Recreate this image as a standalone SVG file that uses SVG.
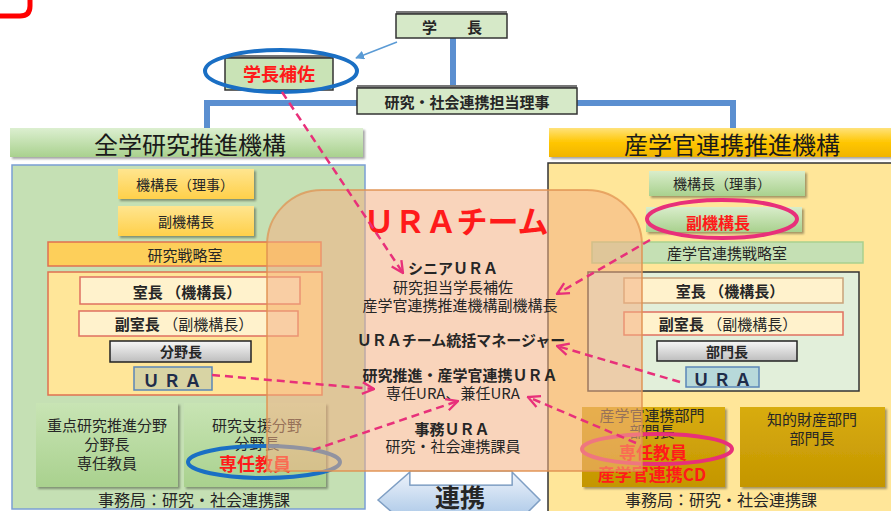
<svg xmlns="http://www.w3.org/2000/svg" width="891" height="511" viewBox="0 0 891 511">
<style>
text{font-family:"Noto Sans CJK JP","Noto Sans",sans-serif;fill:#262626;dominant-baseline:central;text-anchor:middle}
.b{font-weight:bold}
.red{fill:#ff1a1a;font-weight:bold}
.hd{font-size:24px;fill:#1a1a1a}
.t14{font-size:14px}
.t15{font-size:15px}
.t16{font-size:16px}
.ura{font-size:17px;font-weight:bold;fill:#1f2d4a;letter-spacing:4px}
.box{stroke:#333;stroke-width:1.5}
.pk{fill:none;stroke:#e8307a;stroke-width:2.5;stroke-dasharray:8 5}
.bl{fill:none;stroke:#5b8fd0;stroke-width:6}
</style>
<defs>
<filter id="sh" x="-10%" y="-10%" width="130%" height="140%"><feDropShadow dx="2" dy="2" stdDeviation="1.2" flood-color="#000" flood-opacity="0.35"/></filter>
<linearGradient id="gY" x1="0" y1="0" x2="0" y2="1"><stop offset="0" stop-color="#ffe58f"/><stop offset="1" stop-color="#ffd04a"/></linearGradient>
<linearGradient id="gG" x1="0" y1="0" x2="0" y2="1"><stop offset="0" stop-color="#d9edcb"/><stop offset="1" stop-color="#a9d18e"/></linearGradient>
<linearGradient id="gGr" x1="0" y1="0" x2="0" y2="1"><stop offset="0" stop-color="#f7f7f7"/><stop offset="1" stop-color="#bdbdbd"/></linearGradient>
<linearGradient id="gHL" x1="0" y1="0" x2="0" y2="1"><stop offset="0" stop-color="#dcefd0"/><stop offset="1" stop-color="#a9d18e"/></linearGradient>
<linearGradient id="gHR" x1="0" y1="0" x2="0" y2="1"><stop offset="0" stop-color="#ffe27a"/><stop offset="0.5" stop-color="#ffc600"/><stop offset="1" stop-color="#f0b400"/></linearGradient>
<linearGradient id="gLL" x1="0" y1="0" x2="0" y2="1"><stop offset="0" stop-color="#c8e4b4"/><stop offset="1" stop-color="#a9d18e"/></linearGradient>
<linearGradient id="gLR" x1="0" y1="0" x2="0" y2="1"><stop offset="0" stop-color="#d8ac10"/><stop offset="1" stop-color="#c49600"/></linearGradient>
<linearGradient id="gAr" x1="0" y1="0" x2="0" y2="1"><stop offset="0" stop-color="#eef3fb"/><stop offset="1" stop-color="#9dbfe3"/></linearGradient>
<marker id="mp" viewBox="0 0 12 12" refX="11" refY="6" markerWidth="14" markerHeight="14" markerUnits="userSpaceOnUse" orient="auto"><path d="M1,1 L11,6 L1,11" fill="none" stroke="#e8307a" stroke-width="2"/></marker>
<marker id="mb" viewBox="0 0 10 10" refX="9" refY="5" markerWidth="9" markerHeight="9" markerUnits="userSpaceOnUse" orient="auto"><path d="M0,0 L10,5 L0,10 Z" fill="#5b9bd5"/></marker>
</defs>
<rect width="891" height="511" fill="#fff"/>
<path d="M0,16 H20 Q30,16 30,6 V0" fill="none" stroke="#ff0000" stroke-width="5"/>

<g id="conn-org">
<path class="bl" d="M453,38 V86"/>
<path class="bl" d="M357,103 H207 V128"/>
<path class="bl" d="M577,103 H733 V128"/>
<path d="M397,42 L356,58" fill="none" stroke="#5b9bd5" stroke-width="1.5" marker-end="url(#mb)"/>
</g>

<g id="president">
<rect x="396" y="11" width="111" height="4" fill="#777"/>
<rect class="box" x="396" y="14" width="111" height="24" fill="#d6e9c8"/>
<text class="b t15" x="452" y="26">学　　長</text>
</g>
<g id="director">
<rect x="357" y="85" width="220" height="4" fill="#777"/>
<rect class="box" x="357" y="88" width="220" height="26" fill="#d6e9c8"/>
<text class="b t15" x="467" y="101">研究・社会連携担当理事</text>
</g>
<g id="assistant">
<rect x="225" y="55" width="108" height="4" fill="#777"/>
<rect class="box" x="225" y="58" width="108" height="32" fill="#c9e3b6"/>
<text class="red" font-size="18" x="279" y="73">学長補佐</text>
<ellipse cx="281" cy="71" rx="76" ry="21" fill="none" stroke="#1a6fc4" stroke-width="4"/>
</g>

<!-- left organization -->
<g id="left-org">
<rect x="10" y="128" width="353" height="29" fill="url(#gHL)" filter="url(#sh)"/>
<text class="hd" x="190" y="143">全学研究推進機構</text>
<rect x="12" y="165" width="353" height="344" fill="#c5e0b4" stroke="#7a9fd4" stroke-width="1.5"/>
<g id="l-head"><rect x="118" y="169" width="136" height="30" fill="url(#gY)" filter="url(#sh)"/><text class="t14" x="185" y="184">機構長（理事）</text></g>
<g id="l-vice"><rect x="118" y="206" width="136" height="30" fill="url(#gY)" filter="url(#sh)"/><text class="t14" x="186" y="221">副機構長</text></g>
<g id="l-strategy"><rect x="48" y="242" width="273" height="24" fill="#fdcf5a" stroke="#e07050" stroke-width="1.5"/><text class="t15" x="185" y="254">研究戦略室</text></g>
<rect x="48" y="272" width="274" height="123" fill="#ffe699" stroke="#e07050" stroke-width="1.5"/>
<g id="l-chief"><rect x="80" y="277" width="220" height="27" fill="#fff2cc" stroke="#e07060" stroke-width="1.5"/><text class="b t15" x="187" y="291">室長 （機構長）</text></g>
<g id="l-deputy"><rect x="79" y="311" width="219" height="25" fill="#fff2cc" stroke="#e07060" stroke-width="1.5"/><text class="t15" x="184" y="323"><tspan class="b">副室長</tspan> （副機構長）</text></g>
<g id="l-field"><rect x="110" y="341" width="141" height="21" fill="url(#gGr)" stroke="#222" stroke-width="1.5"/><text class="b t14" x="181" y="351">分野長</text></g>
<g id="l-ura"><rect x="134" y="367" width="78" height="23" fill="#d8d4a4" stroke="#5b87b8" stroke-width="1.5"/><text class="ura" x="174" y="379">ＵＲＡ</text></g>
<g id="l-focus"><rect x="36" y="403" width="142" height="84" fill="url(#gLL)" filter="url(#sh)"/>
<text class="t15" x="107" y="424">重点研究推進分野</text><text class="t15" x="107" y="443">分野長</text><text class="t15" x="107" y="462">専任教員</text></g>
<g id="l-support"><rect x="184" y="403" width="142" height="84" fill="url(#gLL)" filter="url(#sh)"/>
<text class="t15" x="257" y="424">研究支援分野</text><text class="t15" x="257" y="442">分野長</text><text class="red" font-size="18" x="255" y="463">専任教員</text>
<ellipse cx="264" cy="462" rx="76" ry="16" fill="none" stroke="#1a6fc4" stroke-width="4"/></g>
<text class="t16" x="194" y="499">事務局：研究・社会連携課</text>
</g>

<!-- right organization -->
<g id="right-org">
<rect x="549" y="128" width="342" height="29" fill="url(#gHR)" filter="url(#sh)"/>
<text class="hd" x="732" y="143">産学官連携推進機構</text>
<rect x="548" y="163" width="345" height="350" fill="#ffe699" stroke="#333" stroke-width="1.5"/>
<g id="r-head"><rect x="649" y="171" width="156" height="25" fill="url(#gG)" filter="url(#sh)"/><text class="t14" x="722" y="183">機構長（理事）</text></g>
<g id="r-vice"><rect x="646" y="207" width="156" height="25" fill="url(#gG)" filter="url(#sh)"/><text class="red" font-size="16" x="718" y="222">副機構長</text>
<ellipse cx="722" cy="219" rx="75" ry="19" fill="none" stroke="#e8307a" stroke-width="4"/></g>
<g id="r-strategy"><rect x="592" y="242" width="271" height="21" fill="#c5e0b4" stroke="#a9d18e" stroke-width="1.5"/><text class="t15" x="727" y="252">産学官連携戦略室</text></g>
<rect x="588" y="272" width="271" height="119" fill="#e2efda" stroke="#333" stroke-width="1.5"/>
<g id="r-chief"><rect x="624" y="278" width="219" height="25" fill="#fff2cc" stroke="#c9a27a" stroke-width="1.5"/><text class="b t15" x="730" y="290">室長 （機構長）</text></g>
<g id="r-deputy"><rect x="624" y="312" width="219" height="23" fill="#fff2cc" stroke="#e07060" stroke-width="1.5"/><text class="t15" x="728" y="323"><tspan class="b">副室長</tspan> （副機構長）</text></g>
<g id="r-dept"><rect x="657" y="341" width="140" height="20" fill="url(#gGr)" stroke="#222" stroke-width="1.5"/><text class="b t14" x="727" y="351">部門長</text></g>
<g id="r-ura"><rect x="686" y="367" width="73" height="20" fill="#b7d9da" stroke="#5b87b8" stroke-width="1.5"/><text class="ura" x="724" y="378">ＵＲＡ</text></g>
<g id="r-collab"><rect x="582" y="407" width="143" height="80" fill="url(#gLR)" filter="url(#sh)"/>
<text class="t15" x="652" y="414">産学官連携部門</text><text class="t15" x="652" y="430">部門長</text>
<text class="red" font-size="17" x="653" y="451">専任教員</text><text class="red" font-size="17" x="652" y="473">産学官連携CD</text>
<ellipse cx="657" cy="449" rx="75" ry="15" fill="none" stroke="#e8307a" stroke-width="4"/></g>
<g id="r-ip"><rect x="740" y="407" width="145" height="80" fill="url(#gLR)" filter="url(#sh)"/>
<text class="t15" x="812" y="418">知的財産部門</text><text class="t15" x="812" y="437">部門長</text></g>
<text class="t16" x="721" y="499">事務局：研究・社会連携課</text>
</g>

<!-- collaboration arrow -->
<g id="collab-arrow">
<path d="M378,500 L410,472 V485 H512 V472 L540,500 L512,528 V515 H410 V528 Z" fill="url(#gAr)" stroke="#7f9fc4" stroke-width="1.5"/>
<rect x="410" y="471" width="102" height="14" fill="#fff" stroke="#7f9fc4" stroke-width="1.2"/>
<text class="b" font-size="25" x="460" y="496" fill="#111">連携</text>
</g>

<!-- URA team overlay -->
<g id="ura-team">
<path d="M267,245 A55,55 0 0 1 322,190 H587 A55,55 0 0 1 642,245 V471 H267 Z" fill="#f4b183" fill-opacity="0.55" stroke="#e0904f" stroke-opacity="0.7" stroke-width="2"/>
<text class="red" font-size="31" x="456" y="219">ＵＲＡチーム</text>
<text class="b t15" x="453" y="267">シニアＵＲＡ</text>
<text class="t15" x="453" y="286">研究担当学長補佐</text>
<text class="t15" x="460" y="304">産学官連携推進機構副機構長</text>
<text class="b t15" x="461" y="339">ＵＲＡチーム統括マネージャー</text>
<text class="b t15" x="460" y="374">研究推進・産学官連携ＵＲＡ</text>
<text class="t15" x="453" y="392">専任URA、兼任URA</text>
<text class="b t15" x="452" y="428">事務ＵＲＡ</text>
<text class="t15" x="453" y="445">研究・社会連携課員</text>
</g>

<g id="connectors">
<path class="pk" d="M282,92 L403,273" marker-end="url(#mp)"/>
<path class="pk" d="M650,240 L557,294" marker-end="url(#mp)"/>
<path class="pk" d="M680,382 L557,346" marker-end="url(#mp)"/>
<path class="pk" d="M212,375 L374,389" marker-end="url(#mp)"/>
<path class="pk" d="M313,450 L458,401" marker-end="url(#mp)"/>
<path class="pk" d="M636,443 L528,397" marker-end="url(#mp)"/>
</g>
</svg>
